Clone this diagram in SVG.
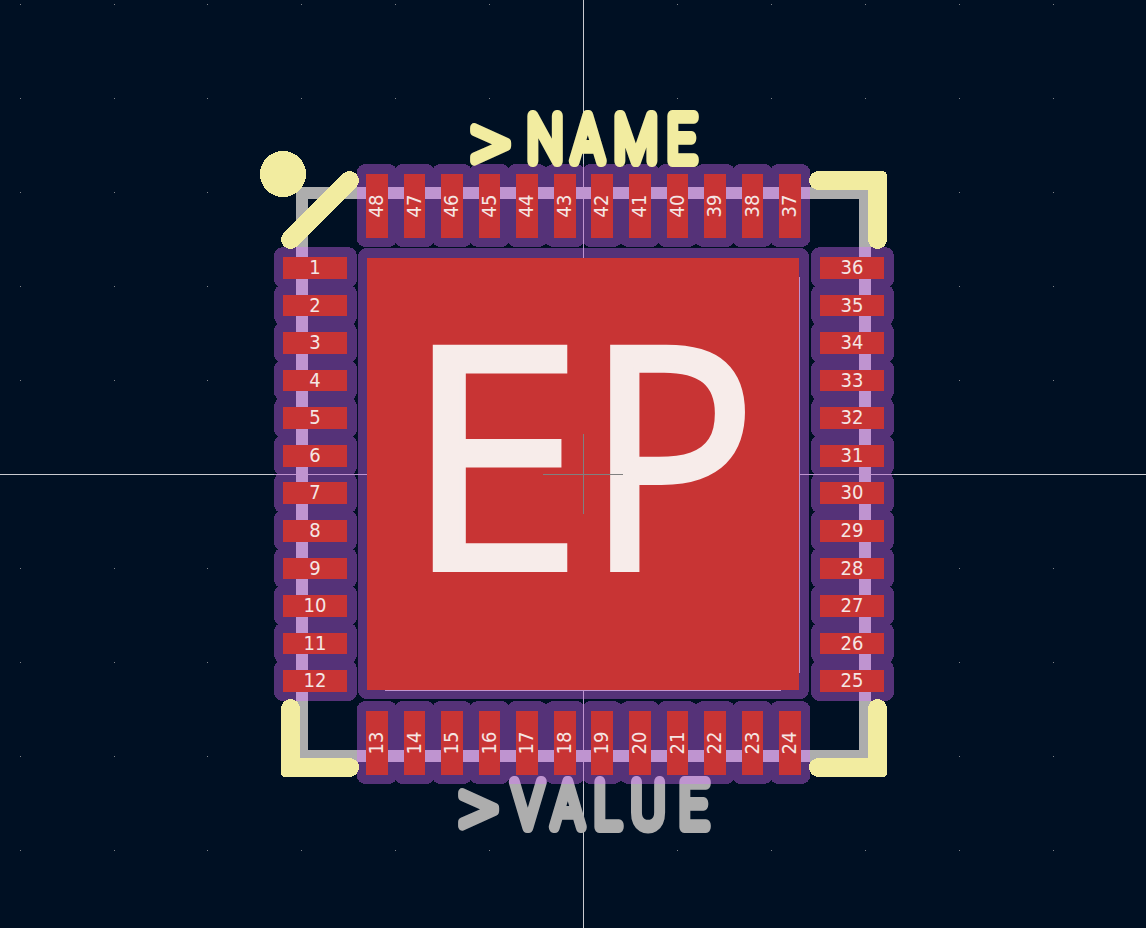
<svg xmlns="http://www.w3.org/2000/svg" xmlns:xlink="http://www.w3.org/1999/xlink" width="1146" height="928" viewBox="0 0 1146 928">
<style>
rect,path,circle{shape-rendering:crispEdges}
.cl{fill:#553278}
.cu{fill:#c83434}
.lav{fill:#bf94d0}
.dot{fill:#7f8288}
.ax{fill:#c9cbd0}
.cx{fill:#808080}
.n{font-family:"DejaVu Sans",sans-serif;font-stretch:condensed;font-size:20px;fill:#f5e6e4;text-anchor:middle}
.y{fill:#f2eca0}
.s{fill:none;stroke:#f2eca0;stroke-width:19;stroke-linecap:round}
.big{font-family:"Roboto",sans-serif;font-weight:100;font-size:63px;stroke-width:12;stroke-linejoin:round;stroke-linecap:round}
.ang{font-family:"DejaVu Sans",sans-serif;font-weight:200;font-size:66px;stroke-width:10}
</style>
<defs>
<linearGradient id="val" gradientUnits="userSpaceOnUse" x1="0" y1="770" x2="0" y2="840">
<stop offset="0.2" stop-color="#bf94d0"/><stop offset="0.2" stop-color="#adadad"/>
</linearGradient>
<path id="row" d="M20 0h1v1h-1zM114 0h1v1h-1zM207 0h1v1h-1zM301 0h1v1h-1zM395 0h1v1h-1zM489 0h1v1h-1zM583 0h1v1h-1zM677 0h1v1h-1zM771 0h1v1h-1zM865 0h1v1h-1zM959 0h1v1h-1zM1053 0h1v1h-1z"/>
<g id="L"><rect class="cl" x="274" y="-10" width="83" height="41" rx="9"/><rect class="lav" x="296" y="-10" width="12" height="41"/><rect class="cu" x="283" y="0" width="64" height="21.7"/></g>
<g id="R"><rect class="cl" x="811" y="-10" width="83" height="41" rx="9"/><rect class="lav" x="859" y="-10" width="12" height="41"/><rect class="cu" x="820" y="0" width="64" height="21.7"/></g>
<g id="T"><rect class="cl" x="-9.6" y="164" width="40.9" height="83" rx="9"/><rect class="lav" x="-9.6" y="187" width="40.9" height="12"/><rect class="cu" x="0" y="174" width="21.7" height="64"/></g>
<g id="B"><rect class="cl" x="-9.6" y="701" width="40.9" height="83" rx="9"/><rect class="lav" x="-9.6" y="750" width="40.9" height="12"/><rect class="cu" x="0" y="711" width="21.7" height="64"/></g>
</defs>
<rect width="1146" height="928" fill="#001023"/>
<g id="grid" class="dot">
<use href="#row" y="4"/><use href="#row" y="98"/><use href="#row" y="192"/><use href="#row" y="286"/><use href="#row" y="380"/><use href="#row" y="474"/><use href="#row" y="568"/><use href="#row" y="662"/><use href="#row" y="756"/><use href="#row" y="850"/>
</g>
<g id="axes">
<rect class="ax" x="0" y="474" width="367" height="1"/><rect class="ax" x="799" y="474" width="347" height="1"/>
<rect class="ax" x="583" y="0" width="1" height="258"/><rect class="ax" x="583" y="690" width="1" height="238"/>
</g>
<g id="fab-outline">
<path d="M302 250V193H360M808 193H865V250M302 700V756H360M808 756H865V700" fill="none" stroke="#adadad" stroke-width="12"/>
</g>
<g id="pads-left">
<g id="pad-1" transform="translate(0 257.1)"><use href="#L"/><text class="n" x="315" y="17">1</text></g>
<g id="pad-2" transform="translate(0 294.65)"><use href="#L"/><text class="n" x="315" y="17">2</text></g>
<g id="pad-3" transform="translate(0 332.2)"><use href="#L"/><text class="n" x="315" y="17">3</text></g>
<g id="pad-4" transform="translate(0 369.75)"><use href="#L"/><text class="n" x="315" y="17">4</text></g>
<g id="pad-5" transform="translate(0 407.3)"><use href="#L"/><text class="n" x="315" y="17">5</text></g>
<g id="pad-6" transform="translate(0 444.85)"><use href="#L"/><text class="n" x="315" y="17">6</text></g>
<g id="pad-7" transform="translate(0 482.4)"><use href="#L"/><text class="n" x="315" y="17">7</text></g>
<g id="pad-8" transform="translate(0 519.95)"><use href="#L"/><text class="n" x="315" y="17">8</text></g>
<g id="pad-9" transform="translate(0 557.5)"><use href="#L"/><text class="n" x="315" y="17">9</text></g>
<g id="pad-10" transform="translate(0 595.05)"><use href="#L"/><text class="n" x="315" y="17">10</text></g>
<g id="pad-11" transform="translate(0 632.6)"><use href="#L"/><text class="n" x="315" y="17">11</text></g>
<g id="pad-12" transform="translate(0 670.15)"><use href="#L"/><text class="n" x="315" y="17">12</text></g>
</g>
<g id="pads-right">
<g id="pad-36" transform="translate(0 257.1)"><use href="#R"/><text class="n" x="852" y="17">36</text></g>
<g id="pad-35" transform="translate(0 294.65)"><use href="#R"/><text class="n" x="852" y="17">35</text></g>
<g id="pad-34" transform="translate(0 332.2)"><use href="#R"/><text class="n" x="852" y="17">34</text></g>
<g id="pad-33" transform="translate(0 369.75)"><use href="#R"/><text class="n" x="852" y="17">33</text></g>
<g id="pad-32" transform="translate(0 407.3)"><use href="#R"/><text class="n" x="852" y="17">32</text></g>
<g id="pad-31" transform="translate(0 444.85)"><use href="#R"/><text class="n" x="852" y="17">31</text></g>
<g id="pad-30" transform="translate(0 482.4)"><use href="#R"/><text class="n" x="852" y="17">30</text></g>
<g id="pad-29" transform="translate(0 519.95)"><use href="#R"/><text class="n" x="852" y="17">29</text></g>
<g id="pad-28" transform="translate(0 557.5)"><use href="#R"/><text class="n" x="852" y="17">28</text></g>
<g id="pad-27" transform="translate(0 595.05)"><use href="#R"/><text class="n" x="852" y="17">27</text></g>
<g id="pad-26" transform="translate(0 632.6)"><use href="#R"/><text class="n" x="852" y="17">26</text></g>
<g id="pad-25" transform="translate(0 670.15)"><use href="#R"/><text class="n" x="852" y="17">25</text></g>
</g>
<g id="pads-top">
<g id="pad-48" transform="translate(366.1 0)"><use href="#T"/><text class="n" transform="translate(17 206) rotate(-90)">48</text></g>
<g id="pad-47" transform="translate(403.65 0)"><use href="#T"/><text class="n" transform="translate(17 206) rotate(-90)">47</text></g>
<g id="pad-46" transform="translate(441.2 0)"><use href="#T"/><text class="n" transform="translate(17 206) rotate(-90)">46</text></g>
<g id="pad-45" transform="translate(478.75 0)"><use href="#T"/><text class="n" transform="translate(17 206) rotate(-90)">45</text></g>
<g id="pad-44" transform="translate(516.3 0)"><use href="#T"/><text class="n" transform="translate(17 206) rotate(-90)">44</text></g>
<g id="pad-43" transform="translate(553.85 0)"><use href="#T"/><text class="n" transform="translate(17 206) rotate(-90)">43</text></g>
<g id="pad-42" transform="translate(591.4 0)"><use href="#T"/><text class="n" transform="translate(17 206) rotate(-90)">42</text></g>
<g id="pad-41" transform="translate(628.95 0)"><use href="#T"/><text class="n" transform="translate(17 206) rotate(-90)">41</text></g>
<g id="pad-40" transform="translate(666.5 0)"><use href="#T"/><text class="n" transform="translate(17 206) rotate(-90)">40</text></g>
<g id="pad-39" transform="translate(704.05 0)"><use href="#T"/><text class="n" transform="translate(17 206) rotate(-90)">39</text></g>
<g id="pad-38" transform="translate(741.6 0)"><use href="#T"/><text class="n" transform="translate(17 206) rotate(-90)">38</text></g>
<g id="pad-37" transform="translate(779.15 0)"><use href="#T"/><text class="n" transform="translate(17 206) rotate(-90)">37</text></g>
</g>
<g id="pads-bottom">
<g id="pad-13" transform="translate(366.1 0)"><use href="#B"/><text class="n" transform="translate(17 743) rotate(-90)">13</text></g>
<g id="pad-14" transform="translate(403.65 0)"><use href="#B"/><text class="n" transform="translate(17 743) rotate(-90)">14</text></g>
<g id="pad-15" transform="translate(441.2 0)"><use href="#B"/><text class="n" transform="translate(17 743) rotate(-90)">15</text></g>
<g id="pad-16" transform="translate(478.75 0)"><use href="#B"/><text class="n" transform="translate(17 743) rotate(-90)">16</text></g>
<g id="pad-17" transform="translate(516.3 0)"><use href="#B"/><text class="n" transform="translate(17 743) rotate(-90)">17</text></g>
<g id="pad-18" transform="translate(553.85 0)"><use href="#B"/><text class="n" transform="translate(17 743) rotate(-90)">18</text></g>
<g id="pad-19" transform="translate(591.4 0)"><use href="#B"/><text class="n" transform="translate(17 743) rotate(-90)">19</text></g>
<g id="pad-20" transform="translate(628.95 0)"><use href="#B"/><text class="n" transform="translate(17 743) rotate(-90)">20</text></g>
<g id="pad-21" transform="translate(666.5 0)"><use href="#B"/><text class="n" transform="translate(17 743) rotate(-90)">21</text></g>
<g id="pad-22" transform="translate(704.05 0)"><use href="#B"/><text class="n" transform="translate(17 743) rotate(-90)">22</text></g>
<g id="pad-23" transform="translate(741.6 0)"><use href="#B"/><text class="n" transform="translate(17 743) rotate(-90)">23</text></g>
<g id="pad-24" transform="translate(779.15 0)"><use href="#B"/><text class="n" transform="translate(17 743) rotate(-90)">24</text></g>
</g>
<g id="axes-on-pads">
<rect class="lav" x="274" y="474" width="93" height="1"/><rect class="lav" x="799" y="474" width="95" height="1"/>
<rect class="lav" x="583" y="164" width="1" height="94"/><rect class="lav" x="583" y="690" width="1" height="94"/>
</g>
<g id="pad-EP">
<rect class="cl" x="358" y="248" width="451" height="451" rx="9"/>
<rect class="lav" x="583" y="248" width="1" height="10"/><rect class="lav" x="583" y="690" width="1" height="9"/>
<rect class="lav" x="358" y="474" width="9" height="1"/><rect class="lav" x="799" y="474" width="10" height="1"/>
<rect class="cu" x="367" y="258" width="432" height="432"/>
<rect class="lav" x="799" y="277" width="1" height="396"/>
<rect class="lav" x="385" y="690" width="396" height="1"/>
<text y="569" font-family="Open Sans, sans-serif" font-size="310" fill="#f7ecea" stroke="#f7ecea" stroke-width="6"><tspan x="404.4" textLength="179.3" lengthAdjust="spacingAndGlyphs">E</tspan><tspan x="585" textLength="172" lengthAdjust="spacingAndGlyphs">P</tspan></text>
<rect class="cx" x="543" y="474" width="80" height="1"/>
<rect class="cx" x="583" y="434" width="1" height="80"/>
</g>
<g id="silkscreen">
<circle class="y" cx="283" cy="174" r="23"/>
<path class="s" d="M290.5 239.5L349.5 180.5"/>
<path class="y" d="M818.5 171H882Q887 171 887 176V239.5A9.5 9.5 0 0 1 868 239.5V190H818.5A9.5 9.5 0 0 1 818.5 171Z"/>
<path class="y" d="M349.5 777H286Q281 777 281 772V708.5A9.5 9.5 0 0 1 300 708.5V758H349.5A9.5 9.5 0 0 1 349.5 777Z"/>
<path class="y" d="M818.5 777H882Q887 777 887 772V708.5A9.5 9.5 0 0 0 868 708.5V758H818.5A9.5 9.5 0 0 0 818.5 777Z"/>
</g>
<g id="ref-name">
<text class="big" transform="scale(.8 1)" fill="#f2eca0" stroke="#f2eca0"><tspan class="ang" x="585.5" y="165">&gt;</tspan><tspan x="659 716 767.9 834" y="161">NAME</tspan></text>
</g>
<g id="ref-value">
<text class="big" transform="scale(.8 1)" fill="url(#val)" stroke="url(#val)"><tspan class="ang" x="570.5" y="830.5">&gt;</tspan><tspan x="641 691 742.9 789 849" y="827">VALUE</tspan></text>
</g>
</svg>
